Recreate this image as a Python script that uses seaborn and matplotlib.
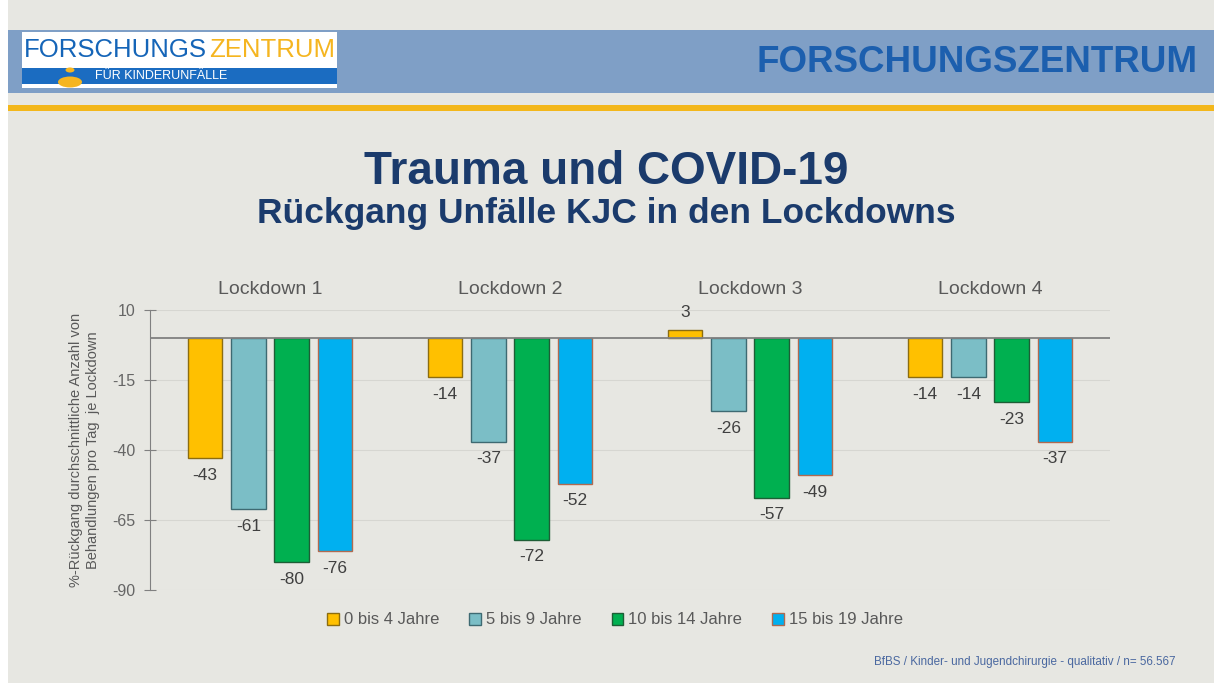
import matplotlib
matplotlib.use('Agg')
import matplotlib.pyplot as plt
import matplotlib.patches as mpatches
import pandas as pd
import seaborn as sns

# Data
lockdowns = ['Lockdown 1', 'Lockdown 2', 'Lockdown 3', 'Lockdown 4']
age_groups = ['0 bis 4 Jahre', '5 bis 9 Jahre', '10 bis 14 Jahre', '15 bis 19 Jahre']
age_0_4 = [-43, -14, 3, -14]
age_5_9 = [-61, -37, -26, -14]
age_10_14 = [-80, -72, -57, -23]
age_15_19 = [-76, -52, -49, -37]
y_ticks = [10, -15, -40, -65, -90]

colors = ['#ffc000', '#7bbec6', '#00b050', '#00b0f0']
edge_colors = ['#8c6d10', '#3e6a72', '#1d5e36', '#b06a50']

rows = []
for grp, vals in zip(age_groups, [age_0_4, age_5_9, age_10_14, age_15_19]):
    for ld, v in zip(lockdowns, vals):
        rows.append({'Lockdown': ld, 'Gruppe': grp, 'Wert': v})
df = pd.DataFrame(rows)

sns.set_style('white')
plt.rcParams['font.family'] = ['Liberation Sans', 'DejaVu Sans']
plt.rcParams['axes.unicode_minus'] = False

W, H = 1214, 683
fig = plt.figure(figsize=(W / 100, H / 100), dpi=100, facecolor='#e7e7e2')


def rect(x, y, w, h, color, z=0):
    # pixel box (top-left origin) -> figure rectangle
    r = mpatches.Rectangle((x / W, 1 - (y + h) / H), w / W, h / H,
                           transform=fig.transFigure, facecolor=color,
                           edgecolor='none', zorder=z)
    fig.add_artist(r)
    return r


# slide frame / header
rect(0, 0, 8, H, 'white')
rect(8, 30, W - 8, 63, '#7f9fc6')
rect(8, 105, W - 8, 6, '#f3b71b')

# logo
rect(22, 32, 315, 56, 'white', 1)
rect(22, 68, 315, 16, '#1b6cc1', 2)
fig.text(24 / W, 1 - 50 / H, 'FORSCHUNGS', color='#1565b8', fontsize=18.5,
         va='center', zorder=3)
fig.text(335 / W, 1 - 50 / H, 'ZENTRUM', color='#f5b520', fontsize=18.5,
         va='center', ha='right', zorder=3)
fig.text(95 / W, 1 - 76 / H, 'FÜR KINDERUNFÄLLE', color='white', fontsize=9,
         va='center', zorder=3)
fig.add_artist(mpatches.Circle((70 / W, 1 - 70 / H), 4.5 / W, transform=fig.transFigure,
                               facecolor='#f5b520', edgecolor='none', zorder=3))
fig.add_artist(mpatches.Ellipse((70 / W, 1 - 82 / H), 24 / W, 11 / H, transform=fig.transFigure,
                                facecolor='#f5b520', edgecolor='none', zorder=3))

fig.text(1198 / W, 1 - 62 / H, 'FORSCHUNGSZENTRUM', color='#1c5fae', fontsize=26.5,
         fontweight='bold', ha='right', va='center')

# titles
fig.text(606 / W, 1 - 172 / H, 'Trauma und COVID-19', color='#1b3b6c', fontsize=33,
         fontweight='bold', ha='center', va='center')
fig.text(606 / W, 1 - 214 / H, 'Rückgang Unfälle KJC in den Lockdowns', color='#1b3b6c',
         fontsize=25.5, fontweight='bold', ha='center', va='center')

# chart
ax = fig.add_axes([150 / W, 1 - 590 / H, 960 / W, 280 / H])
ax.set_facecolor('none')
sns.barplot(data=df, x='Lockdown', y='Wert', hue='Gruppe', order=lockdowns,
            hue_order=age_groups, palette=colors, saturation=1, width=0.72, gap=0.2,
            errorbar=None, legend=False, linewidth=1, ax=ax)

for cont, ec in zip(ax.containers, edge_colors):
    for p in cont:
        p.set_edgecolor(ec)
    ax.bar_label(cont, fmt='%d', padding=7, fontsize=12.5, color='#404040')

ax.set_xlim(-0.5, 3.5)
ax.set_ylim(-90, 10)
ax.set_yticks(y_ticks)
ax.yaxis.grid(True, color='#d6d6d1', linewidth=0.8)
ax.set_axisbelow(True)
ax.axhline(0, color='#808080', linewidth=1.3, zorder=1)

for s in ['top', 'right', 'bottom']:
    ax.spines[s].set_visible(False)
ax.spines['left'].set_color('#808080')

ax.tick_params(axis='y', direction='inout', length=9, color='#808080', left=True,
               labelsize=11.5, labelcolor='#666666', pad=6)
ax.xaxis.tick_top()
ax.tick_params(axis='x', length=0, pad=9, labelsize=14, labelcolor='#595959',
               labeltop=True, labelbottom=False)
ax.set_xlabel('')
ax.set_ylabel('%-Rückgang durchschnittliche Anzahl von\nBehandlungen pro Tag  je Lockdown',
              fontsize=10.5, color='#595959', labelpad=9)

handles = [mpatches.Patch(facecolor=c, edgecolor=e, label=l)
           for c, e, l in zip(colors, edge_colors, age_groups)]
fig.legend(handles=handles, loc='center', bbox_to_anchor=(615 / W, 1 - 620 / H), ncol=4,
           frameon=False, fontsize=12, handlelength=0.7, handleheight=0.7,
           handletextpad=0.3, columnspacing=1.8, labelcolor='#595959')

fig.text(1175 / W, 1 - 662 / H, 'BfBS / Kinder- und Jugendchirurgie - qualitativ / n= 56.567',
         color='#4a68a0', fontsize=8.4, ha='right', va='center')

fig.savefig('out.png', dpi=100, facecolor=fig.get_facecolor())
